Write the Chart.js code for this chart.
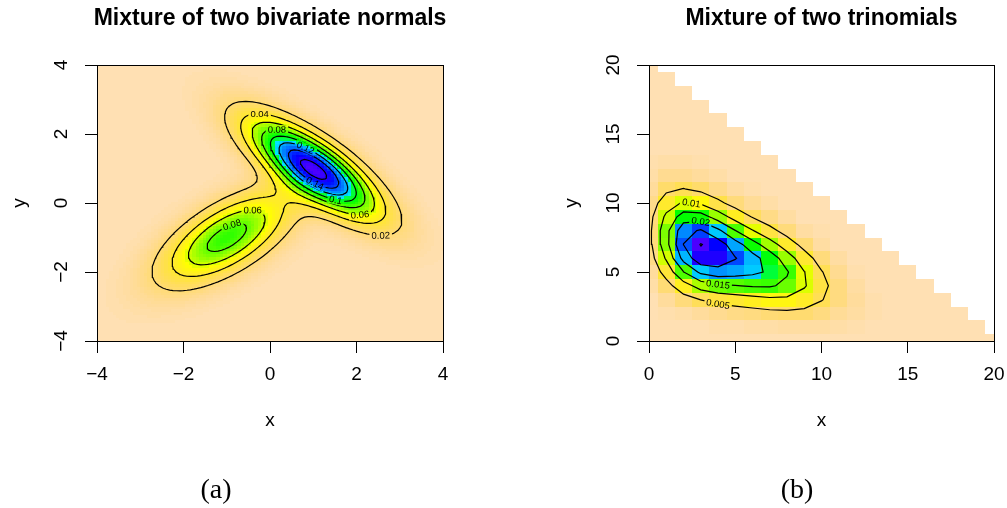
<!DOCTYPE html>
<html>
<head>
<meta charset="utf-8">
<script src="https://cdn.jsdelivr.net/npm/chart.js@4/dist/chart.umd.min.js"></script>
<style>
  html, body { margin: 0; padding: 0; background: #fff; }
  #wrap { position: relative; width: 1007px; height: 508px; overflow: hidden; }
  .panel { position: absolute; top: 0; height: 508px; }
</style>
</head>
<body>
<div id="wrap">
  <div class="panel" style="left:0;width:552px"><canvas id="normChart" width="552" height="508"></canvas></div>
  <div class="panel" style="left:552px;width:455px"><canvas id="trinChart" width="455" height="508"></canvas></div>
</div>
<script>
// Panel (a): mixture of two bivariate normals (parameters)
const normWeights = [0.62, 0.38];
const normMeans = [[1, 1], [-1, -1]];
const normCovs = [[[1.0, -0.73], [-0.73, 0.9]], [[1.0, 0.58], [0.58, 0.8]]];
const normTicks = [-4, -2, 0, 2, 4];
const normLevels = [0.02, 0.04, 0.06, 0.08, 0.1, 0.12, 0.14, 0.16];

// Panel (b): mixture of two trinomials, 20 trials
const trinSize = 20;
const trinWeights = [0.58, 0.42];
const trinProbs = [[0.155, 0.34], [0.34, 0.27]];
const trinTicks = [0, 5, 10, 15, 20];
const trinLevels = [0.005, 0.01, 0.015, 0.02, 0.025, 0.03];

// where the contour labels sit (level, x, y)
const normLabelSpots = [
  [0.04, -0.23, 2.59], [0.08, 0.16, 2.09], [0.12, 0.82, 1.57], [0.14, 1.03, 0.58],
  [0.1, 1.52, 0.1], [0.06, 2.04, -0.35], [0.02, 2.53, -1.0],
  [0.06, -0.43, -0.22], [0.08, -0.83, -0.7]
];
const trinLabelSpots = [[0.01, 2.7, 10.0], [0.02, 2.66, 8.28], [0.015, 3.81, 4.31], [0.005, 4.12, 2.85]];

const FONT = 'Liberation Sans, Arial, Helvetica, sans-serif';

// rev(topo.colors(100)) like R
function hsv(h, s, v) {
  const i = Math.floor(h * 6), f = h * 6 - i;
  const p = v * (1 - s), q = v * (1 - f * s), t = v * (1 - (1 - f) * s);
  const m = [[v, t, p], [q, v, p], [p, v, t], [p, q, v], [t, p, v], [v, p, q]][i % 6];
  return 'rgb(' + m.map(c => Math.round(c * 255)).join(',') + ')';
}
function topoColors(n) {
  const j = Math.floor(n / 3), k = Math.floor(n / 3), i = n - j - k;
  const seq = (a, b, len, idx) => len === 1 ? a : a + (b - a) * idx / (len - 1);
  const out = [];
  for (let a = 0; a < i; a++) out.push(hsv(seq(43 / 60, 31 / 60, i, a), 1, 1));
  for (let a = 0; a < j; a++) out.push(hsv(seq(23 / 60, 11 / 60, j, a), 1, 1));
  for (let a = 0; a < k; a++) out.push(hsv(seq(10 / 60, 6 / 60, k, a), seq(1, 0.3, k, a), 1));
  return out;
}
const palette = topoColors(100).reverse();

function normDensity(x, y) {
  let s = 0;
  for (let k = 0; k < normWeights.length; k++) {
    const [mx, my] = normMeans[k];
    const [[a, b], [, d]] = normCovs[k];
    const det = a * d - b * b, dx = x - mx, dy = y - my;
    const q = (d * dx * dx - 2 * b * dx * dy + a * dy * dy) / det;
    s += normWeights[k] * Math.exp(-q / 2) / (2 * Math.PI * Math.sqrt(det));
  }
  return s;
}

const logFact = [0];
for (let k = 1; k <= trinSize; k++) logFact[k] = logFact[k - 1] + Math.log(k);
function trinPmf(x, y) {
  const n = trinSize;
  if (x + y > n) return null;
  let s = 0;
  for (let k = 0; k < trinWeights.length; k++) {
    const [p1, p2] = trinProbs[k], p3 = 1 - p1 - p2;
    const lp = logFact[n] - logFact[x] - logFact[y] - logFact[n - x - y] +
      x * Math.log(p1) + y * Math.log(p2) + (n - x - y) * Math.log(p3);
    s += trinWeights[k] * Math.exp(lp);
  }
  return s;
}

function finishGrid(g) {
  let lo = Infinity, hi = -Infinity;
  g.z.forEach(col => col.forEach(v => { if (v !== null) { lo = Math.min(lo, v); hi = Math.max(hi, v); } }));
  g.zmin = lo; g.zmax = hi;
  return g;
}

const normGrid = (() => {
  const n = 101, xs = [];
  for (let k = 0; k < n; k++) xs.push(-4 + 8 * k / (n - 1));
  return finishGrid({ xs, ys: xs.slice(), z: xs.map(x => xs.map(y => normDensity(x, y))), cellW: 8 / (n - 1), cellH: 8 / (n - 1) });
})();

const trinGrid = (() => {
  const xs = [];
  for (let k = 0; k <= trinSize; k++) xs.push(k);
  return finishGrid({ xs, ys: xs.slice(), z: xs.map(x => xs.map(y => trinPmf(x, y))), cellW: 1, cellH: 1 });
})();

function colorFor(v, g) {
  let k = Math.floor((v - g.zmin) / (g.zmax - g.zmin) * palette.length);
  return palette[Math.max(0, Math.min(palette.length - 1, k))];
}

// marching squares, segments joined into polylines
function contourLines(g, level) {
  const { xs, ys, z } = g;
  const pts = new Map(), segs = [];
  const edge = (key, xa, ya, za, xb, yb, zb) => {
    if (!pts.has(key)) {
      const t = (level - za) / (zb - za);
      pts.set(key, { x: xa + t * (xb - xa), y: ya + t * (yb - ya) });
    }
    return key;
  };
  for (let i = 0; i < xs.length - 1; i++) {
    for (let j = 0; j < ys.length - 1; j++) {
      const z00 = z[i][j], z10 = z[i + 1][j], z11 = z[i + 1][j + 1], z01 = z[i][j + 1];
      if (z00 === null || z10 === null || z11 === null || z01 === null) continue;
      const a00 = z00 >= level, a10 = z10 >= level, a11 = z11 >= level, a01 = z01 >= level;
      const c = [];
      if (a00 !== a10) c.push(edge('h' + i + ',' + j, xs[i], ys[j], z00, xs[i + 1], ys[j], z10));
      if (a10 !== a11) c.push(edge('v' + (i + 1) + ',' + j, xs[i + 1], ys[j], z10, xs[i + 1], ys[j + 1], z11));
      if (a01 !== a11) c.push(edge('h' + i + ',' + (j + 1), xs[i], ys[j + 1], z01, xs[i + 1], ys[j + 1], z11));
      if (a00 !== a01) c.push(edge('v' + i + ',' + j, xs[i], ys[j], z00, xs[i], ys[j + 1], z01));
      if (c.length === 2) segs.push([c[0], c[1]]);
      else if (c.length === 4) {
        const mid = (z00 + z10 + z11 + z01) / 4 >= level;
        if (mid === a00) { segs.push([c[0], c[1]]); segs.push([c[2], c[3]]); }
        else { segs.push([c[0], c[3]]); segs.push([c[2], c[1]]); }
      }
    }
  }
  const adj = new Map();
  segs.forEach((s, k) => s.forEach(key => { if (!adj.has(key)) adj.set(key, []); adj.get(key).push(k); }));
  const used = new Array(segs.length).fill(false);
  const lines = [];
  const walk = (line, cur, atEnd) => {
    while (true) {
      const nxt = (adj.get(cur) || []).find(k => !used[k]);
      if (nxt === undefined) return;
      used[nxt] = true;
      const other = segs[nxt][0] === cur ? segs[nxt][1] : segs[nxt][0];
      if (atEnd) line.push(other); else line.unshift(other);
      cur = other;
    }
  };
  segs.forEach((s, k) => {
    if (used[k]) return;
    used[k] = true;
    const line = [s[0], s[1]];
    walk(line, s[1], true);
    if (line[line.length - 1] !== line[0]) walk(line, s[0], false);
    lines.push({ level, pts: line.map(key => pts.get(key)) });
  });
  return lines;
}

function drawCells(chart, g, box) {
  const ctx = chart.ctx, sx = chart.scales.x, sy = chart.scales.y;
  for (let i = 0; i < g.xs.length; i++) {
    const l = Math.round(sx.getPixelForValue(g.xs[i] - g.cellW / 2));
    const r = Math.round(sx.getPixelForValue(g.xs[i] + g.cellW / 2));
    if (box && (r < box.l || l > box.r)) continue;
    for (let j = 0; j < g.ys.length; j++) {
      const v = g.z[i][j];
      if (v === null) continue;
      const t = Math.round(sy.getPixelForValue(g.ys[j] + g.cellH / 2));
      const b = Math.round(sy.getPixelForValue(g.ys[j] - g.cellH / 2));
      if (box && (b < box.t || t > box.b)) continue;
      ctx.fillStyle = colorFor(v, g);
      ctx.fillRect(l, t, r - l, b - t);
    }
  }
}

function labelPlace(chart, lines, level, ax, ay) {
  const sx = chart.scales.x, sy = chart.scales.y;
  const apx = sx.getPixelForValue(ax), apy = sy.getPixelForValue(ay);
  let best = null;
  lines.forEach(ln => {
    if (ln.level !== level) return;
    const px = ln.pts.map(p => [sx.getPixelForValue(p.x), sy.getPixelForValue(p.y)]);
    px.forEach((q, k) => {
      const d = (q[0] - apx) ** 2 + (q[1] - apy) ** 2;
      if (!best || d < best.d) best = { d, px, k };
    });
  });
  if (!best) return null;
  const { px, k } = best, c = px[k];
  let a = k, b = k;
  while (a > 0 && Math.hypot(px[a][0] - c[0], px[a][1] - c[1]) < 7) a--;
  while (b < px.length - 1 && Math.hypot(px[b][0] - c[0], px[b][1] - c[1]) < 7) b++;
  let ang = Math.atan2(px[b][1] - px[a][1], px[b][0] - px[a][0]);
  if (ang > Math.PI / 2) ang -= Math.PI;
  if (ang < -Math.PI / 2) ang += Math.PI;
  return { x: c[0], y: c[1], ang };
}

const fmt = v => v < 0 ? '\u2212' + Math.abs(v) : String(v);

function panelPlugin(p) {
  return {
    id: 'panel' + p.key,
    beforeDatasetsDraw(chart) {
      const ctx = chart.ctx, a = chart.chartArea;
      ctx.save();
      ctx.beginPath();
      ctx.rect(a.left, a.top, a.right - a.left, a.bottom - a.top);
      ctx.clip();
      drawCells(chart, p.grid);
      ctx.restore();
    },
    afterDatasetsDraw(chart) {
      const ctx = chart.ctx;
      ctx.font = '9.5px ' + FONT;
      p.spots.forEach(([level, ax, ay]) => {
        const pos = labelPlace(chart, p.lines, level, ax, ay);
        if (!pos) return;
        const text = String(level), w = ctx.measureText(text).width, h = 9;
        const m = ctx.getTransform();
        ctx.save();
        ctx.translate(pos.x, pos.y);
        ctx.rotate(pos.ang);
        ctx.beginPath();
        ctx.rect(-w / 2 - 2, -h / 2, w + 4, h);
        ctx.clip();
        ctx.setTransform(m);
        const r = w / 2 + 4;
        drawCells(chart, p.grid, { l: pos.x - r, r: pos.x + r, t: pos.y - r, b: pos.y + r });
        ctx.restore();
        ctx.save();
        ctx.translate(pos.x, pos.y);
        ctx.rotate(pos.ang);
        ctx.fillStyle = '#000';
        ctx.textAlign = 'center';
        ctx.textBaseline = 'middle';
        ctx.fillText(text, 0, 0.5);
        ctx.restore();
      });
    },
    afterDraw(chart) {
      const ctx = chart.ctx, a = chart.chartArea, sy = chart.scales.y;
      ctx.save();
      ctx.strokeStyle = '#000';
      ctx.lineWidth = 1;
      ctx.strokeRect(Math.round(a.left) + 0.5, Math.round(a.top) + 0.5, Math.round(a.right - a.left), Math.round(a.bottom - a.top));
      ctx.fillStyle = '#000';
      ctx.textAlign = 'center';
      ctx.textBaseline = 'middle';
      ctx.font = '19px ' + FONT;
      p.ticks.forEach(v => {
        ctx.save();
        ctx.translate(a.left - 35, sy.getPixelForValue(v));
        ctx.rotate(-Math.PI / 2);
        ctx.fillText(fmt(v), 0, 0);
        ctx.restore();
      });
      ctx.font = 'bold 23px ' + FONT;
      ctx.fillText(p.title, (a.left + a.right) / 2, 19);
      ctx.font = '28px "Liberation Serif", "Times New Roman", serif';
      ctx.fillText(p.caption, p.captionX, 491);
      ctx.restore();
    }
  };
}

function makePanel(canvasId, p) {
  p.lines = [];
  p.levels.forEach(L => { p.lines.push(...contourLines(p.grid, L)); });
  const datasets = p.lines.map(ln => ({
    data: ln.pts, showLine: true, pointRadius: 0, borderColor: '#000', borderWidth: 1.2, fill: false, parsing: false
  }));
  const axisFont = { family: FONT, size: 19 };
  const tickGrid = { display: true, drawOnChartArea: false, drawTicks: true, tickLength: 12, color: '#000', lineWidth: 1 };
  return new Chart(document.getElementById(canvasId), {
    type: 'scatter',
    data: { datasets },
    options: {
      responsive: false,
      animation: false,
      devicePixelRatio: 1,
      events: [],
      layout: { padding: { left: 0, top: 65, right: p.padRight, bottom: 67 } },
      plugins: { legend: { display: false }, tooltip: { enabled: false } },
      scales: {
        x: {
          type: 'linear', position: 'bottom', min: p.ticks[0], max: p.ticks[p.ticks.length - 1],
          afterBuildTicks: s => { s.ticks = p.ticks.map(v => ({ value: v })); },
          afterFit: s => { s.height = 100; s.paddingLeft = 0; s.paddingRight = 0; },
          ticks: { font: axisFont, color: '#000', padding: 10, maxRotation: 0, autoSkip: false, callback: v => fmt(v) },
          grid: tickGrid,
          border: { display: true, color: '#000', width: 1 },
          title: { display: true, text: 'x', font: axisFont, color: '#000', padding: { top: 0, bottom: 8.6 } }
        },
        y: {
          type: 'linear', position: 'left', min: p.ticks[0], max: p.ticks[p.ticks.length - 1],
          afterBuildTicks: s => { s.ticks = p.ticks.map(v => ({ value: v })); },
          afterFit: s => { s.width = 97; s.paddingTop = 0; s.paddingBottom = 0; },
          ticks: { display: false },
          grid: tickGrid,
          border: { display: true, color: '#000', width: 1 },
          title: { display: true, text: 'y', font: axisFont, color: '#000', padding: { top: 8.6, bottom: 0 } }
        }
      }
    },
    plugins: [panelPlugin(p)]
  });
}

makePanel('normChart', {
  key: 'a', grid: normGrid, levels: normLevels, ticks: normTicks, spots: normLabelSpots,
  title: 'Mixture of two bivariate normals', caption: '(a)', captionX: 216, padRight: 109
});
makePanel('trinChart', {
  key: 'b', grid: trinGrid, levels: trinLevels, ticks: trinTicks, spots: trinLabelSpots,
  title: 'Mixture of two trinomials', caption: '(b)', captionX: 797 - 552, padRight: 13
});
</script>
</body>
</html>
